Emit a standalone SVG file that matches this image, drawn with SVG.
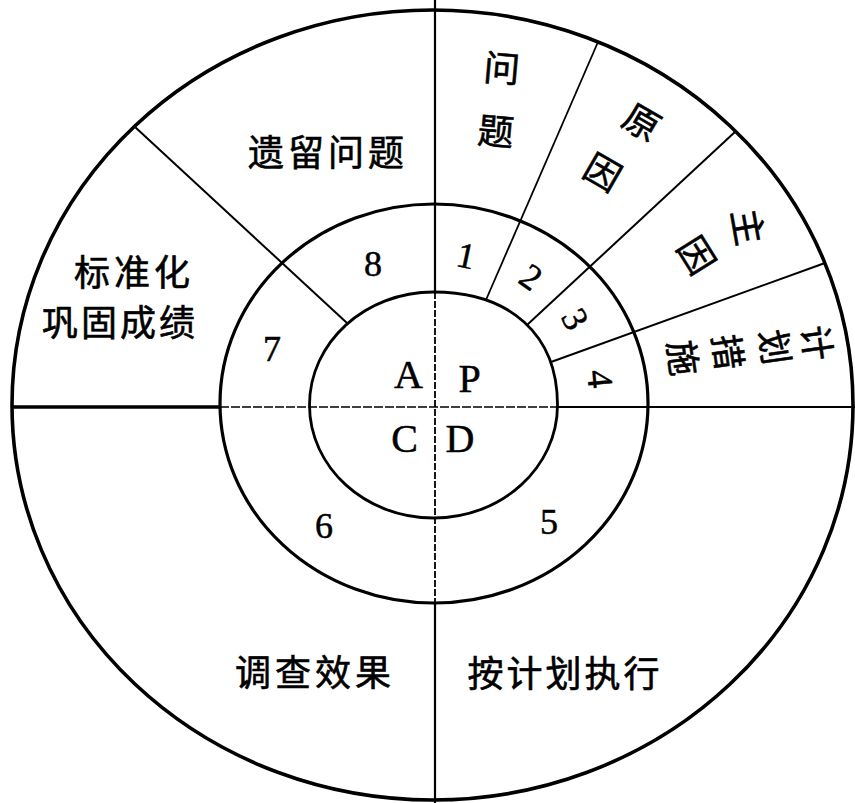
<svg xmlns="http://www.w3.org/2000/svg" width="855" height="803" viewBox="0 0 855 803">
<style>
.ring{fill:none;stroke:#000}
.ln{fill:none;stroke:#000;stroke-linecap:butt}
.cjk{font-family:"Noto Sans CJK SC","Noto Sans CJK JP",sans-serif;font-size:36px;fill:#000;stroke:#000;stroke-width:0.6;text-anchor:middle}
.lat{font-family:"Liberation Serif","Times New Roman",serif;font-size:36px;fill:#000;stroke:#000;stroke-width:0.5;text-anchor:middle}
.big{font-size:40px}
</style>
<rect width="855" height="803" fill="#fff"/>
<g id="rings">
  <ellipse id="outer-ring" class="ring" cx="432.5" cy="405" rx="420.5" ry="395" stroke-width="3.6"/>
  <ellipse id="middle-ring" class="ring" cx="434" cy="403.5" rx="214" ry="199.5" stroke-width="3.2"/>
  <path id="inner-ring" class="ring" stroke-width="2.8" d="M433.5,292 C510.4,292 557.5,334.9 557.5,405 C557.5,467.4 502,518 433.5,518 C365,518 309.5,467.4 309.5,405 C309.5,342.6 365,292 433.5,292 Z"/>
</g>
<g id="connectors">
  <line class="ln" x1="435" y1="0" x2="435" y2="292" stroke-width="2.2"/>
  <line class="ln" x1="435" y1="292" x2="435" y2="603" stroke-width="1.8" stroke-dasharray="7 2"/>
  <line class="ln" x1="435" y1="603" x2="435" y2="803" stroke-width="2.2"/>
  <line class="ln" x1="12" y1="407" x2="220" y2="407" stroke-width="3.4"/>
  <line class="ln" x1="220" y1="407" x2="557" y2="407" stroke-width="1.7" stroke-dasharray="9 2"/>
  <line class="ln" x1="557" y1="407" x2="855" y2="407" stroke-width="2.2"/>
  <line class="ln" x1="598" y1="42" x2="485.5" y2="301" stroke-width="1.8"/>
  <line class="ln" x1="736" y1="131" x2="527" y2="325" stroke-width="2"/>
  <line class="ln" x1="825" y1="263" x2="551" y2="362" stroke-width="2"/>
  <line class="ln" x1="135" y1="127" x2="347" y2="323" stroke-width="2"/>
</g>
<g id="node-remaining-problems">
  <text class="cjk" x="328" y="166" letter-spacing="4">遗留问题</text>
</g>
<g id="node-standardize">
  <text class="cjk" x="134" y="286" letter-spacing="4">标准化</text>
  <text class="cjk" x="120" y="336" letter-spacing="3">巩固成绩</text>
</g>
<g id="node-check">
  <text class="cjk" x="315" y="686" letter-spacing="4">调查效果</text>
</g>
<g id="node-do">
  <text class="cjk" x="565" y="687" letter-spacing="3">按计划执行</text>
</g>
<g id="node-problem">
  <text class="cjk" transform="translate(502,68) rotate(5)" y="13.7">问</text>
  <text class="cjk" transform="translate(496,131) rotate(5)" y="13.7">题</text>
</g>
<g id="node-cause">
  <text class="cjk" transform="translate(642,122) rotate(30)" y="13.7">原</text>
  <text class="cjk" transform="translate(603,172) rotate(30)" y="13.7">因</text>
</g>
<g id="node-main-cause">
  <text class="cjk" transform="translate(748,227) rotate(80)" y="13.7">主</text>
  <text class="cjk" transform="translate(697,255) rotate(58)" y="13.7">因</text>
</g>
<g id="node-plan">
  <text class="cjk" transform="translate(817,343) rotate(82)" y="13.3" style="font-size:35px">计</text>
  <text class="cjk" transform="translate(775,347) rotate(82)" y="13.3" style="font-size:35px">划</text>
  <text class="cjk" transform="translate(728,352) rotate(82)" y="13.3" style="font-size:35px">措</text>
  <text class="cjk" transform="translate(683,358) rotate(82)" y="13.3" style="font-size:35px">施</text>
</g>
<g id="step-numbers">
  <text class="lat" transform="translate(466,256) rotate(12)" y="12">1</text>
  <text class="lat" transform="translate(531,277) rotate(35)" y="12">2</text>
  <text class="lat" transform="translate(575,319) rotate(62)" y="12">3</text>
  <text class="lat" transform="translate(600,379) rotate(85)" y="12">4</text>
  <text class="lat" x="549" y="534">5</text>
  <text class="lat" x="324" y="538">6</text>
  <text class="lat" x="272" y="361">7</text>
  <text class="lat" x="373" y="276">8</text>
</g>
<g id="node-pdca">
  <text class="lat big" x="408.5" y="388">A</text>
  <text class="lat big" x="469.5" y="392">P</text>
  <text class="lat big" x="404.5" y="452">C</text>
  <text class="lat big" x="460" y="452">D</text>
</g>
</svg>
